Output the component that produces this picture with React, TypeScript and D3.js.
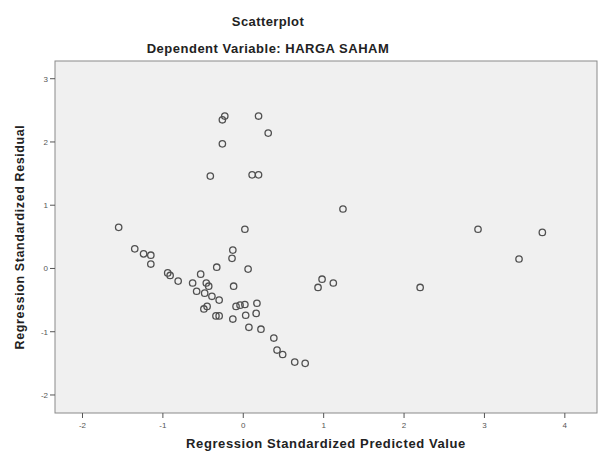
import React from "react";
import * as d3 from "d3";

const predicted: number[] = [
  -1.55, -1.35, -1.24, -1.15, -1.15, -0.94, -0.91, -0.81, -0.63, -0.58,
  -0.53, -0.48, -0.46, -0.43, -0.39, -0.3, -0.49, -0.45, -0.34, -0.3,
  -0.33, -0.41, -0.26, -0.26, -0.23, 0.19, 0.31, 0.11, 0.19, 0.02,
  -0.13, -0.14, 0.06, -0.12, -0.09, -0.04, 0.02, 0.17, -0.13, 0.03,
  0.16, 0.07, 0.22, 0.38, 0.42, 0.49, 0.64, 0.77, 1.24, 0.98,
  0.93, 1.12, 2.2, 2.92, 3.72, 3.43,
];
const residual: number[] = [
  0.65, 0.31, 0.23, 0.21, 0.07, -0.07, -0.11, -0.2, -0.23, -0.36,
  -0.09, -0.39, -0.23, -0.28, -0.44, -0.5, -0.64, -0.6, -0.75, -0.75,
  0.02, 1.46, 1.97, 2.35, 2.41, 2.41, 2.14, 1.48, 1.48, 0.62,
  0.29, 0.16, -0.01, -0.28, -0.6, -0.58, -0.57, -0.55, -0.8, -0.74,
  -0.71, -0.93, -0.96, -1.1, -1.29, -1.36, -1.48, -1.5, 0.94, -0.17,
  -0.3, -0.23, -0.3, 0.62, 0.57, 0.15,
];
const xTicks: number[] = [-2, -1, 0, 1, 2, 3, 4];
const yTicks: number[] = [-2, -1, 0, 1, 2, 3];
const title = "Scatterplot";
const subtitle = "Dependent Variable: HARGA SAHAM";
const xLabel = "Regression Standardized Predicted Value";
const yLabel = "Regression Standardized Residual";

export default function App() {
  const W = 600;
  const H = 453;
  const left = 55;
  const right = 597;
  const top = 61;
  const bottom = 413;
  const x = d3.scaleLinear().domain([-2.342, 4.4]).range([left, right]);
  const y = d3.scaleLinear().domain([-2.285, 3.28]).range([bottom, top]);
  const font = "'Liberation Sans', Arial, sans-serif";
  const pts = predicted.map((p, i) => [p, residual[i]]);
  return (
    <svg
      width={W}
      height={H}
      style={{ position: "absolute", left: 0, top: 0, background: "#fff" }}
      fontFamily={font}
    >
      <text x={268} y={26} textAnchor="middle" fontSize={13} letterSpacing={0.4} fontWeight="bold" fill="#222">
        {title}
      </text>
      <text x={268} y={53} textAnchor="middle" fontSize={13} letterSpacing={0.5} fontWeight="bold" fill="#222">
        {subtitle}
      </text>
      <rect x={left} y={top} width={right - left} height={bottom - top} fill="#f0f0f0" stroke="#8a8a8a" strokeWidth={1} />
      {xTicks.map((t) => (
        <g key={"x" + t}>
          <line x1={x(t)} x2={x(t)} y1={bottom} y2={bottom + 5} stroke="#555" />
          <text x={x(t)} y={bottom + 15} textAnchor="middle" fontSize={8} fill="#555">
            {t}
          </text>
        </g>
      ))}
      {yTicks.map((t) => (
        <g key={"y" + t}>
          <line x1={left - 5} x2={left} y1={y(t)} y2={y(t)} stroke="#555" />
          <text x={left - 7} y={y(t) + 3} textAnchor="end" fontSize={8} fill="#555">
            {t}
          </text>
        </g>
      ))}
      {pts.map((d, i) => (
        <circle key={i} cx={x(d[0])} cy={y(d[1])} r={3.2} fill="none" stroke="#505050" strokeWidth={1.3} />
      ))}
      <text x={(left + right) / 2} y={448} textAnchor="middle" fontSize={13} letterSpacing={0.6} fontWeight="bold" fill="#222">
        {xLabel}
      </text>
      <text
        transform={`translate(24, ${(top + bottom) / 2}) rotate(-90)`}
        textAnchor="middle"
        fontSize={12.5}
        letterSpacing={0.6}
        fontWeight="bold"
        fill="#222"
      >
        {yLabel}
      </text>
    </svg>
  );
}
